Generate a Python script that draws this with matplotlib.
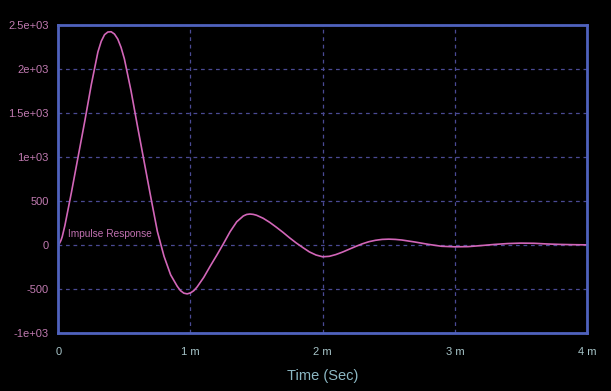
import matplotlib
matplotlib.use("Agg")
import matplotlib.pyplot as plt
from matplotlib.ticker import FixedLocator, FixedFormatter

# time in milliseconds, response values
t_ms = [0, 0.01, 0.02, 0.03, 0.05, 0.075, 0.10, 0.125, 0.15, 0.20, 0.25, 0.30, 0.325,
        0.35, 0.375, 0.40, 0.425, 0.45, 0.475, 0.50, 0.55,
        0.60, 0.65, 0.70, 0.75, 0.80, 0.85, 0.90, 0.925, 0.95, 0.975, 1.00, 1.025,
        1.05, 1.10, 1.15, 1.20, 1.25, 1.30, 1.35, 1.40, 1.425, 1.45, 1.475, 1.50,
        1.55, 1.60, 1.65, 1.70, 1.75, 1.80, 1.85, 1.90, 1.95, 2.00, 2.05, 2.10,
        2.15, 2.20, 2.25, 2.30, 2.35, 2.40, 2.45, 2.50, 2.55, 2.60, 2.70, 2.80,
        2.90, 3.00, 3.10, 3.20, 3.30, 3.40, 3.50, 3.60, 3.70, 3.80, 3.90, 4.00]
response = [0, 20, 50, 94, 220, 410, 600, 800, 1000, 1400, 1820, 2190, 2310,
            2385, 2415, 2418, 2392, 2335, 2240, 2110, 1750,
            1340, 940, 540, 150, -130, -340, -470, -520, -548, -556, -545, -520,
            -478, -370, -240, -115, 15, 150, 262, 328, 345, 350, 346, 336,
            302, 255, 200, 142, 80, 22, -30, -80, -115, -135, -130, -110,
            -82, -50, -18, 12, 36, 52, 62, 65, 62, 55, 32, 6,
            -16, -22, -20, -8, 5, 15, 20, 18, 10, 5, 2, 0]

x_ticks = [0, 1e-3, 2e-3, 3e-3, 4e-3]
x_labels = ["0", "1 m", "2 m", "3 m", "4 m"]
y_ticks = [-1000, -500, 0, 500, 1000, 1500, 2000, 2500]
y_labels = ["-1e+03", "-500", "0", "500", "1e+03", "1.5e+03", "2e+03", "2.5e+03"]

plt.rcParams['font.family'] = ['Liberation Sans', 'DejaVu Sans']

fig = plt.figure(figsize=(6.11, 3.91), dpi=100, facecolor="black")
ax = fig.add_axes([0.0954, 0.1483, 0.8653, 0.789])
ax.set_facecolor("black")

t_s = [v * 1e-3 for v in t_ms]
ax.plot(t_s, response, color="#d266b8", lw=1.2, zorder=3,
        solid_joinstyle="round", solid_capstyle="round")

ax.set_xlim(0, 4e-3)
ax.set_ylim(-1000, 2500)

ax.xaxis.set_major_locator(FixedLocator(x_ticks))
ax.xaxis.set_major_formatter(FixedFormatter(x_labels))
ax.yaxis.set_major_locator(FixedLocator(y_ticks))
ax.yaxis.set_major_formatter(FixedFormatter(y_labels))

ax.tick_params(axis="both", length=0)
ax.tick_params(axis="y", pad=7, labelsize=8, labelcolor="#c07ab0")
ax.tick_params(axis="x", pad=10, labelsize=8, labelcolor="#a6c4c8")

ax.grid(True, color="#4a4a94", linestyle=(0, (3, 3)), linewidth=0.9, zorder=1)

for s in ax.spines.values():
    s.set_color("#4f62bd")
    s.set_linewidth(2.0)
    s.set_zorder(4)

ax.set_xlabel("Time (Sec)", color="#8cb8c4", fontsize=10.5, labelpad=9)

ax.text(0.076e-3, 125, "Impulse Response", color="#c070b0", fontsize=7.3,
        ha="left", va="center", zorder=5)

fig.savefig("out.png", dpi=100, facecolor="black")
